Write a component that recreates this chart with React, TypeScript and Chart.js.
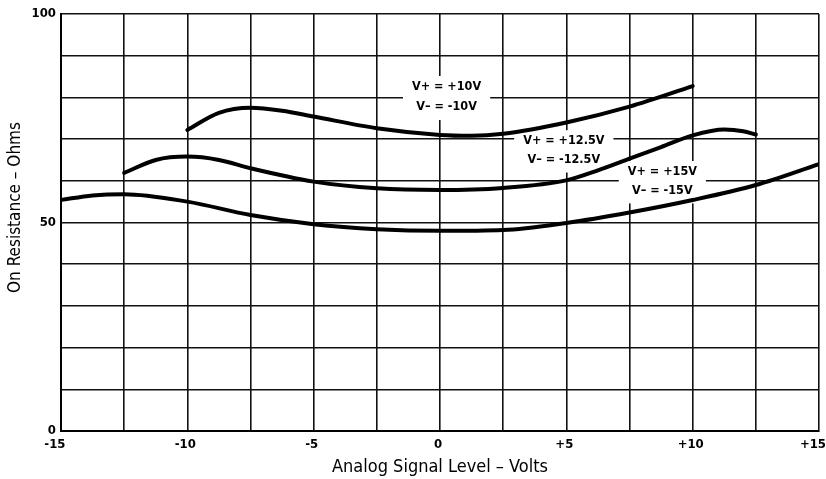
import React, { useEffect, useRef } from "react";
import { Chart, registerables } from "chart.js";

Chart.register(...registerables);

// ---- data ----
const xs10 = [-10, -8.75, -7.5, -6.25, -5, -2.5, 0, 1.25, 2.5, 5, 7.5, 10];
const r10 = [72.2, 76.3, 77.5, 76.8, 75.4, 72.6, 71.0, 70.8, 71.3, 74.0, 77.8, 82.7];

const xs12 = [-12.5, -11.25, -10, -8.75, -7.5, -5, -2.5, 0, 2.5, 5, 6.25, 7.5, 8.75, 10, 11.25, 12, 12.5];
const r12 = [61.9, 65.0, 65.8, 65.0, 63.0, 59.8, 58.2, 57.8, 58.3, 60.1, 62.5, 65.3, 68.1, 70.9, 72.3, 71.9, 71.1];

const xs15 = [-15, -13.75, -12.5, -10, -7.5, -5, -2.5, 0, 2.5, 5, 7.5, 10, 12.5, 15];
const r15 = [55.4, 56.5, 56.8, 55.0, 51.8, 49.6, 48.4, 48.0, 48.2, 49.9, 52.4, 55.4, 59.0, 64.0];

const xTickValues = [-15, -10, -5, 0, 5, 10, 15];
const xTickLabels = ["-15", "-10", "-5", "0", "+5", "+10", "+15"];
const yTickValues = [0, 50, 100];
const yTickLabels = ["0", "50", "100"];

const xTitle = "Analog Signal Level \u2013 Volts";
const yTitle = "On Resistance \u2013 Ohms";

const curveLabels = [
  ["V+ = +10V", "V\u2013 = -10V"],
  ["V+ = +12.5V", "V\u2013 = -12.5V"],
  ["V+ = +15V", "V\u2013 = -15V"],
];
// label anchors (data units: centre x, first-row y, second-row y)
const labelAnchors = [
  { x: 0.26, y1: 82.5, y2: 77.7 },
  { x: 4.9, y1: 69.5, y2: 65.1 },
  { x: 8.8, y1: 62.1, y2: 57.7 },
];

const FONT = "'DejaVu Sans Condensed', 'Liberation Sans Narrow', sans-serif";
const LABEL_FONT = `bold 12.5px ${FONT}`;

const pts = (xs: number[], ys: number[]) => xs.map((x, i) => ({ x, y: ys[i] }));

const labelPlugin = {
  id: "curveLabels",
  beforeDatasetsDraw(chart: any) {
    const { ctx, scales } = chart;
    const xs = scales.x, ys = scales.y;
    ctx.save();
    ctx.font = LABEL_FONT;
    labelAnchors.forEach((a, i) => {
      const cx = xs.getPixelForValue(a.x);
      const y1 = ys.getPixelForValue(a.y1);
      const y2 = ys.getPixelForValue(a.y2);
      const w = Math.max(...curveLabels[i].map((t) => ctx.measureText(t).width));
      ctx.fillStyle = "#fff";
      ctx.fillRect(cx - w / 2 - 9, y1 - 11, w + 18, y2 - y1 + 24);
    });
    ctx.restore();
  },
  afterDatasetsDraw(chart: any) {
    const { ctx, scales } = chart;
    const xs = scales.x, ys = scales.y;
    ctx.save();
    ctx.font = LABEL_FONT;
    ctx.fillStyle = "#000";
    ctx.textAlign = "center";
    ctx.textBaseline = "middle";
    labelAnchors.forEach((a, i) => {
      const cx = xs.getPixelForValue(a.x);
      ctx.fillText(curveLabels[i][0], cx, ys.getPixelForValue(a.y1));
      ctx.fillText(curveLabels[i][1], cx, ys.getPixelForValue(a.y2));
    });
    ctx.restore();
  },
};

// y-axis title, drawn a little above the plot's centre as in the reference
const yTitlePlugin = {
  id: "yTitle",
  afterDraw(chart: any) {
    const { ctx, chartArea } = chart;
    ctx.save();
    ctx.font = `17px ${FONT}`;
    ctx.fillStyle = "#000";
    ctx.textAlign = "center";
    ctx.textBaseline = "middle";
    ctx.translate(16, (chartArea.top + chartArea.bottom) / 2 - 15);
    ctx.rotate(-Math.PI / 2);
    ctx.fillText(yTitle, 0, 0);
    ctx.restore();
  },
};

export default function App() {
  const ref = useRef<HTMLCanvasElement | null>(null);

  useEffect(() => {
    if (!ref.current) return;
    const lineDs = (label: string, data: { x: number; y: number }[]) => ({
      label,
      data,
      borderColor: "#000",
      borderWidth: 4,
      pointRadius: 0,
      fill: false,
      cubicInterpolationMode: "monotone" as const,
      borderCapStyle: "round" as const,
    });
    const chart = new Chart(ref.current, {
      type: "line",
      data: {
        datasets: [
          lineDs("V\u00b1 10V", pts(xs10, r10)),
          lineDs("V\u00b1 12.5V", pts(xs12, r12)),
          lineDs("V\u00b1 15V", pts(xs15, r15)),
        ],
      },
      options: {
        animation: false,
        responsive: false,
        devicePixelRatio: 1,
        layout: { padding: { top: 14, right: 7, left: 0, bottom: 0 } },
        plugins: { legend: { display: false }, tooltip: { enabled: false } },
        scales: {
          x: {
            type: "linear",
            min: -15,
            max: 15,
            afterFit: (s: any) => {
              s.height = 48;
              s.paddingLeft = 0;
              s.paddingRight = 0;
            },
            grid: { color: "#111", lineWidth: 1.6, drawTicks: false },
            border: { display: true, color: "#000", width: 2 },
            ticks: {
              stepSize: 2.5,
              autoSkip: false,
              maxRotation: 0,
              padding: 6,
              labelOffset: -2,
              color: "#000",
              font: { family: FONT, size: 13, weight: "bold" },
              callback: (v: any) => {
                const i = xTickValues.indexOf(Number(v));
                if (i < 0) return "";
                // keep the outermost labels inside the picture, shifted left as in the reference
                return i === 0 || i === xTickValues.length - 1
                  ? xTickLabels[i] + "\u00a0\u00a0"
                  : xTickLabels[i];
              },
            },
            title: {
              display: true,
              text: xTitle,
              color: "#000",
              font: { family: FONT, size: 18, weight: "normal" },
              padding: { top: 0, bottom: 1 },
            },
          },
          y: {
            min: 0,
            max: 100,
            afterFit: (s: any) => {
              s.width = 61;
              s.paddingTop = 0;
              s.paddingBottom = 0;
            },
            grid: { color: "#111", lineWidth: 1.6, drawTicks: false },
            border: { display: true, color: "#000", width: 2 },
            ticks: {
              stepSize: 10,
              autoSkip: false,
              padding: 5,
              color: "#000",
              font: { family: FONT, size: 13, weight: "bold" },
              callback: (v: any) => {
                const i = yTickValues.indexOf(Number(v));
                return i >= 0 ? yTickLabels[i] : "";
              },
            },
            title: { display: false, text: yTitle },
          },
        },
      },
      plugins: [labelPlugin, yTitlePlugin],
    });
    return () => chart.destroy();
  }, []);

  return (
    <div style={{ position: "absolute", left: 0, top: 0, width: 826, height: 479, background: "#fff" }}>
      <canvas ref={ref} width={826} height={479} />
    </div>
  );
}
